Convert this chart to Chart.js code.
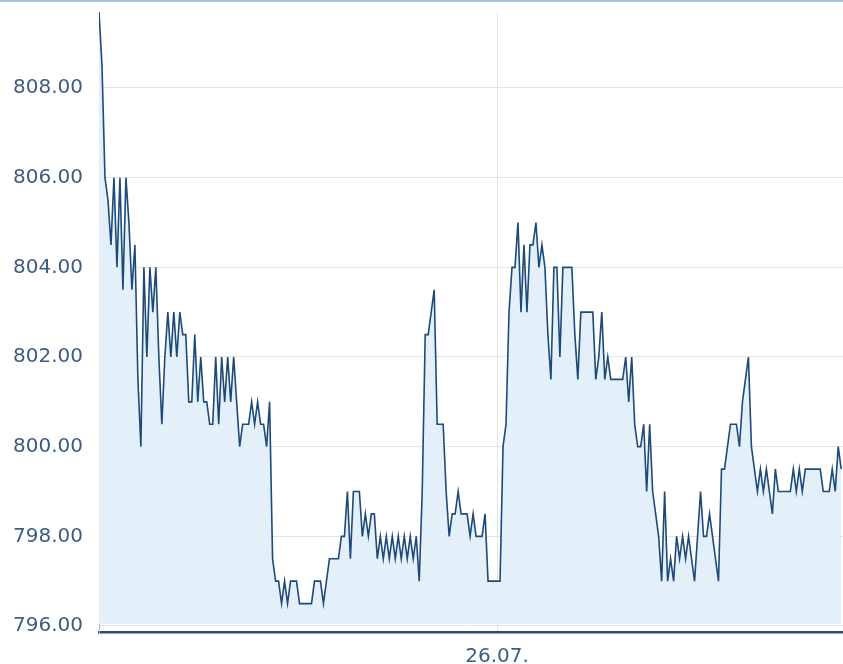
<!DOCTYPE html>
<html lang="de">
<head>
    <meta charset="UTF-8">
    <title>Kursverlauf</title>
    <style>
        html, body { margin: 0; padding: 0; background: #fff; }
        #wrap { position: relative; width: 843px; height: 664px; overflow: hidden; }
        #topline { position: absolute; left: 0; top: 0; width: 843px; height: 2px; background: #a6c1dc; }
    </style>
</head>
<body>
    <div id="wrap">
        <canvas id="kurs"></canvas>
        <div id="topline"></div>
    </div>

    <script src="https://cdn.jsdelivr.net/npm/chart.js"></script>
    <script>
        // Kurse des Vortags (gleichmäßige Intervalle)
        const day1 = [
            809.7, 808.5, 806, 805.5, 804.5, 806, 804, 806, 803.5, 806,
            805, 803.5, 804.5, 801.5, 800, 804, 802, 804, 803, 804,
            802, 800.5, 802, 803, 802, 803, 802, 803, 802.5, 802.5,
            801, 801, 802.5, 801, 802, 801, 801, 800.5, 800.5, 802,
            800.5, 802, 801, 802, 801, 802, 801, 800, 800.5, 800.5,
            800.5, 801, 800.5, 801, 800.5, 800.5, 800, 801, 797.5, 797,
            797, 796.5, 797, 796.5, 797, 797, 797, 796.5, 796.5, 796.5,
            796.5, 796.5, 797, 797, 797, 796.5, 797, 797.5, 797.5, 797.5,
            797.5, 798, 798, 799, 797.5, 799, 799, 799, 798, 798.5,
            798, 798.5, 798.5, 797.5, 798, 797.5, 798, 797.5, 798, 797.5,
            798, 797.5, 798, 797.5, 798, 797.5, 798, 797, 799, 802.5,
            802.5, 803, 803.5, 800.5, 800.5, 800.5, 799, 798, 798.5, 798.5,
            799, 798.5, 798.5, 798.5, 798, 798.5, 798, 798, 798, 798.5,
            797, 797, 797
        ];

        // Kurse ab 26.07.
        const day2 = [
            797, 797, 800, 800.5, 803, 804, 804, 805, 803, 804.5,
            803, 804.5, 804.5, 805, 804, 804.5, 804, 802.5, 801.5, 804,
            804, 802, 804, 804, 804, 804, 802.5, 801.5, 803, 803,
            803, 803, 803, 801.5, 802, 803, 801.5, 802, 801.5, 801.5,
            801.5, 801.5, 801.5, 802, 801, 802, 800.5, 800, 800, 800.5,
            799, 800.5, 799, 798.5, 798, 797, 799, 797, 797.5, 797,
            798, 797.5, 798, 797.5, 798, 797.5, 797, 798, 799, 798,
            798, 798.5, 798, 797.5, 797, 799.5, 799.5, 800, 800.5, 800.5,
            800.5, 800, 801, 801.5, 802, 800, 799.5, 799, 799.5, 799,
            799.5, 799, 798.5, 799.5, 799, 799, 799, 799, 799, 799.5,
            799, 799.5, 799, 799.5, 799.5, 799.5, 799.5, 799.5, 799.5, 799,
            799, 799, 799.5, 799, 800, 799.5
        ];

        const dayLabel = '26.07.';
        const yTicks = [796, 798, 800, 802, 804, 806, 808];

        const prices = day1.concat(day2);
        const points = prices.map((v, i) => ({ x: i, y: v }));
        const dayStart = day1.length;

        const labelColor = '#3d5d82';

        const data = {
            datasets: [{
                data: points,
                borderColor: '#1d4a78',
                borderWidth: 1.6,
                backgroundColor: '#e3eff9',
                fill: { value: 796.05 },
                pointRadius: 0,
                tension: 0
            }]
        };

        const config = {
            type: 'line',
            data: data,
            options: {
                responsive: true,
                maintainAspectRatio: false,
                animation: false,
                layout: { padding: { top: 12, left: 12, right: 0, bottom: 0 } },
                plugins: {
                    legend: { display: false },
                    tooltip: { enabled: false }
                },
                scales: {
                    x: {
                        type: 'linear',
                        min: 0,
                        max: 248.6,
                        afterBuildTicks: (scale) => { scale.ticks = [{ value: dayStart }]; },
                        afterFit: (scale) => { scale.height = 32; },
                        ticks: {
                            padding: 13,
                            maxRotation: 0,
                            color: labelColor,
                            font: { family: 'DejaVu Sans', size: 20 },
                            callback: () => dayLabel
                        },
                        grid: { color: '#e4e4e4', lineWidth: 1, drawTicks: false },
                        border: { color: '#2a4d74', width: 2.5 }
                    },
                    y: {
                        min: 795.866,
                        max: 809.695,
                        afterBuildTicks: (scale) => { scale.ticks = yTicks.map(v => ({ value: v })); },
                        afterFit: (scale) => {
                            scale.width = 87;
                            scale.paddingTop = 0;
                            scale.paddingBottom = 0;
                        },
                        ticks: {
                            padding: 16,
                            color: labelColor,
                            font: { family: 'DejaVu Sans', size: 20 },
                            callback: (v) => v.toFixed(2)
                        },
                        grid: { color: '#e4e4e4', lineWidth: 1, drawTicks: false },
                        border: { color: '#a8bfd6', width: 1 }
                    }
                }
            }
        };

        new Chart(document.getElementById('kurs').getContext('2d'), config);
    </script>
</body>
</html>
